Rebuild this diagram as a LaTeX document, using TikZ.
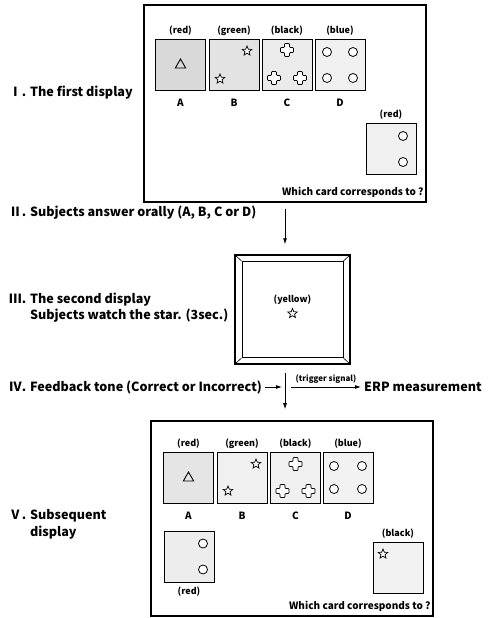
\documentclass[tikz,border=0pt]{standalone}
\usepackage{fontspec}
\setmainfont{Noto Sans CJK JP}
\usetikzlibrary{arrows.meta,positioning,shapes.geometric}

% outlined plus sign centred on the given point
\newcommand{\crossat}[1]{\draw[fill=white, line width=0.7pt, rounded corners=0.8pt] (#1) ++(-2.5,-6.5) -- ++(5,0) -- ++(0,4) -- ++(4,0) -- ++(0,5) -- ++(-4,0) -- ++(0,4) -- ++(-5,0) -- ++(0,-4) -- ++(-4,0) -- ++(0,-5) -- ++(4,0) -- cycle;}

\begin{document}
\begin{tikzpicture}[x=1pt, y=-1pt,
  card/.style={draw, line width=1pt, minimum width=50pt, minimum height=51pt, inner sep=0pt},
  colorlab/.style={font=\bfseries\fontsize{9}{10}\selectfont, inner sep=0pt},
  letterlab/.style={font=\bfseries\fontsize{10}{12}\selectfont, inner sep=0pt},
  steplab/.style={font=\bfseries\fontsize{12.6}{16.5}\selectfont, anchor=west, align=left, inner sep=0pt},
  ring/.style={draw, circle, line width=0.8pt, minimum size=9pt, inner sep=0pt, fill=white},
  starmk/.style={draw, star, star points=5, star point ratio=2.3, minimum size=10pt, inner sep=0pt, line width=0.7pt, fill=white},
  trimk/.style={draw, regular polygon, regular polygon sides=3, minimum size=12pt, inner sep=0pt, line width=0.9pt},
  frame/.style={draw, line width=1.6pt, inner sep=0pt},
  arr/.style={-{Latex[length=6pt,width=4pt]}, line width=0.8pt}]
\useasboundingbox (0,0) rectangle (494,618);

% I. first display
\node[frame, minimum width=282pt, minimum height=197pt] (disp1) at (285,103.5) {};
\node[steplab] (s1) at (9,93) {Ⅰ. The first display};
\node[card, fill=black!15] (cA) at (180.5,65) {};
\node[card, fill=black!11] (cB) at (234,65) {};
\node[card, fill=black!8] (cC) at (287,65) {};
\node[card, fill=black!6] (cD) at (340,65) {};
\node[colorlab, above=3pt of cA] (cA-col) {(red)};
\node[colorlab, above=3pt of cB] (cB-col) {(green)};
\node[colorlab, above=3pt of cC] (cC-col) {(black)};
\node[colorlab, above=3pt of cD] (cD-col) {(blue)};
\node[letterlab, below=8pt of cA] (cA-let) {A};
\node[letterlab, below=8pt of cB] (cB-let) {B};
\node[letterlab, below=8pt of cC] (cC-let) {C};
\node[letterlab, below=8pt of cD] (cD-let) {D};
\node[trimk] (triA) at (cA) {};
\begin{scope}[shift={(cB)}]
  \node[starmk] (sB1) at (13,-14) {};
  \node[starmk] (sB2) at (-14,14) {};
\end{scope}
\begin{scope}[shift={(cC)}]
  \crossat{0,-15} \crossat{-13,13} \crossat{13,13}
\end{scope}
\begin{scope}[shift={(cD)}]
  \foreach \dx/\dy [count=\i] in {-13/-13, 13/-13, -13/13, 13/13}
    \node[ring] (oD\i) at (\dx,\dy) {};
\end{scope}
\node[card, fill=black!6] (tgt1) at (391,149) {};
\node[colorlab, above=3pt of tgt1] (tgt1-col) {(red)};
\node[ring] (oT1) at ([shift={(12pt,13pt)}]tgt1.center) {};
\node[ring] (oT2) at ([shift={(12pt,-13pt)}]tgt1.center) {};
\node[letterlab, anchor=base east] (q1) at ([shift={(-3pt,7pt)}]disp1.south east) {Which card corresponds to ?};

% II. answer
\node[steplab] (s2) at (9,213) {Ⅱ. Subjects answer orally (A, B, C or D)};

% III. second display
\node[frame, line width=1.3pt, minimum width=115pt, minimum height=109pt] (disp2) at (292.5,309.5) {};
\node[draw, line width=1pt, minimum width=101pt, minimum height=96pt, inner sep=0pt] (scr) at (disp2) {};
\foreach \c in {north west, north east, south west, south east}
  \draw[line width=0.6pt] (disp2.\c) -- (scr.\c);
\node[colorlab] (ylab) at ([yshift=10pt]scr.center) {(yellow)};
\node[starmk] (sY) at ([yshift=-4pt]scr.center) {};
\node[steplab] (s3) at (9,307.5) {Ⅲ. The second display\\\hphantom{Ⅲ. }Subjects watch the star. (3sec.)};

% IV. feedback
\node[steplab] (s4) at (9,387) {Ⅳ. Feedback tone (Correct or Incorrect)};
\node[steplab] (erp) at (364,387) {ERP measurement};
\coordinate (tap) at (disp1.south |- s4.west);

% V. subsequent display
\node[frame, minimum width=282pt, minimum height=195pt] (disp3) at (292,518.5) {};
\node[steplab] (s5) at (9,524.5) {Ⅴ. Subsequent\\\hphantom{Ⅴ. }display};
\node[card, fill=black!10] (dA) at (188.5,478) {};
\node[card, fill=black!6] (dB) at (242,478) {};
\node[card, fill=black!6] (dC) at (295.5,478) {};
\node[card, fill=black!5] (dD) at (348,478) {};
\node[colorlab, above=3pt of dA] (dA-col) {(red)};
\node[colorlab, above=3pt of dB] (dB-col) {(green)};
\node[colorlab, above=3pt of dC] (dC-col) {(black)};
\node[colorlab, above=3pt of dD] (dD-col) {(blue)};
\node[letterlab, below=8pt of dA] (dA-let) {A};
\node[letterlab, below=8pt of dB] (dB-let) {B};
\node[letterlab, below=8pt of dC] (dC-let) {C};
\node[letterlab, below=8pt of dD] (dD-let) {D};
\node[trimk] (triD) at (dA) {};
\begin{scope}[shift={(dB)}]
  \node[starmk] (sD1) at (14,-14) {};
  \node[starmk] (sD2) at (-14,13) {};
\end{scope}
\begin{scope}[shift={(dC)}]
  \crossat{0,-14} \crossat{-13,13} \crossat{13,13}
\end{scope}
\begin{scope}[shift={(dD)}]
  \foreach \dx/\dy [count=\i] in {-14/-12, 14/-12, -14/11, 14/11}
    \node[ring] (pD\i) at (\dx,\dy) {};
\end{scope}
\node[card, fill=black!7] (old) at (189,556.5) {};
\node[colorlab, below=4pt of old] (old-col) {(red)};
\node[ring] (oO1) at ([shift={(14pt,13pt)}]old.center) {};
\node[ring] (oO2) at ([shift={(14pt,-13pt)}]old.center) {};
\node[card, fill=black!5] (tgt2) at (398,568) {};
\node[colorlab, above=3pt of tgt2] (tgt2-col) {(black)};
\node[starmk] (sT2) at ([shift={(-15pt,14pt)}]tgt2.center) {};
\node[letterlab, anchor=base east] (q2) at ([shift={(-3pt,7pt)}]disp3.south east) {Which card corresponds to ?};

% flow arrows
\draw[arr] ([yshift=-6pt]disp1.south) -- ([yshift=10pt]disp1.south |- disp2.north);
\draw[arr] ([yshift=-8pt]disp1.south |- disp2.south) -- ([yshift=11pt]disp1.south |- disp3.north);
\draw[arr] ([xshift=3pt]s4.east) -- ([xshift=-3pt]tap);
\draw[arr] ([xshift=6pt]tap) -- node[colorlab, font=\bfseries\fontsize{8}{9}\selectfont, above=3pt] (trig) {(trigger signal)} ([xshift=-3pt]erp.west);
\end{tikzpicture}
\end{document}
